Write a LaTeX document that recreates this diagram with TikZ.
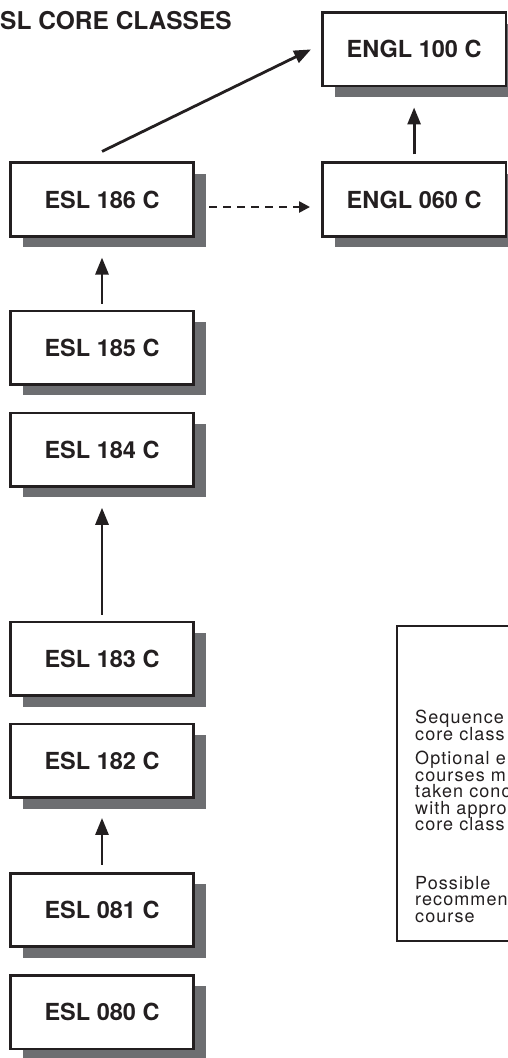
\documentclass[tikz,border=0pt]{standalone}
\usepackage{fontspec}
\setmainfont{TeX Gyre Heros}
\newfontfamily\keyfont[LetterSpace=6]{TeX Gyre Heros}
\usetikzlibrary{positioning,shadows,arrows.meta}
\definecolor{shadowgray}{RGB}{109,110,113}
\definecolor{ink}{RGB}{35,31,32}

\begin{document}
\begin{tikzpicture}[x=1pt,y=-1pt]
\tikzset{course/.style={draw=ink,fill=white,line width=2.6pt,
                        minimum width=183.5pt,
                        minimum height=73.5pt,
                        inner sep=0pt,
                        font=\fontsize{23.5}{27}\selectfont\bfseries,
                        text=ink,
                        drop shadow={shadow xshift=12.5pt,shadow yshift=-11pt,
                                     fill=shadowgray,opacity=1}},
         flow/.style={draw=ink,line width=2.8pt,-{Triangle[width=13pt,length=17pt]}},
         opt/.style={draw=ink,line width=2.4pt,dash pattern=on 8pt off 6pt,
                     -{Triangle[width=11pt,length=11pt]}},
         keytext/.style={anchor=base west,inner sep=0pt,text=ink,
                         text height=11pt,text depth=3pt,
                         font=\keyfont\fontsize{18}{20}\selectfont}
}
\useasboundingbox (0,0) rectangle (508,1058);
\node[anchor=base west,inner sep=0pt,text=ink,
      font=\fontsize{24.5}{28}\selectfont\bfseries] (title) at (0,29) {SL CORE CLASSES};
% core sequence
\node[course] (e186) at (102,199.5) {ESL 186 C};
\node[course] (e185) [below=72pt of e186]  {ESL 185 C};
\node[course] (e184) [below=26pt of e185]  {ESL 184 C};
\node[course] (e183) [below=133pt of e184] {ESL 183 C};
\node[course] (e182) [below=26pt of e183]  {ESL 182 C};
\node[course] (e081) [below=73pt of e182]  {ESL 081 C};
\node[course] (e080) [below=26pt of e081]  {ESL 080 C};
\node[course] (g060) [right=126pt of e186] {ENGL 060 C};
\node[course] (g100) [above=74pt of g060]  {ENGL 100 C};
\draw[flow,shorten <=6pt,shorten >=20pt] (e185) -- (e186);
\draw[flow,shorten <=6pt,shorten >=20pt] (e183) -- (e184);
\draw[flow,shorten <=7pt,shorten >=19pt] (e081) -- (e182);
\draw[flow,shorten <=7pt,shorten >=20pt] (g060) -- (g100);
\draw[flow] ([yshift=10pt]e186.north) -- ([xshift=-10pt]g100.west);
\draw[opt,shorten <=14pt,shorten >=11pt] ([yshift=-7.5pt]e186.east) -- ([yshift=-7.5pt]g060.west);
% key
\node[draw=ink,line width=2pt,minimum width=128pt,minimum height=315pt,
      inner sep=0pt,anchor=north west] (key) at (396,625) {};
\node[keytext] (k1) at (415,723)   {Sequence};
\node[keytext] (k2) at (415,740)   {core class};
\node[keytext] (k3) at (415,764.5) {Optional e};
\node[keytext] (k4) at (415,781)   {courses m};
\node[keytext] (k5) at (415,797.5) {taken conc};
\node[keytext] (k6) at (415,814)   {with appro};
\node[keytext] (k7) at (415,830.5) {core class};
\node[keytext] (k8) at (415,889)   {Possible};
\node[keytext] (k9) at (415,905.5) {recommen};
\node[keytext] (k10) at (415,922)  {course};
\end{tikzpicture}
\end{document}
